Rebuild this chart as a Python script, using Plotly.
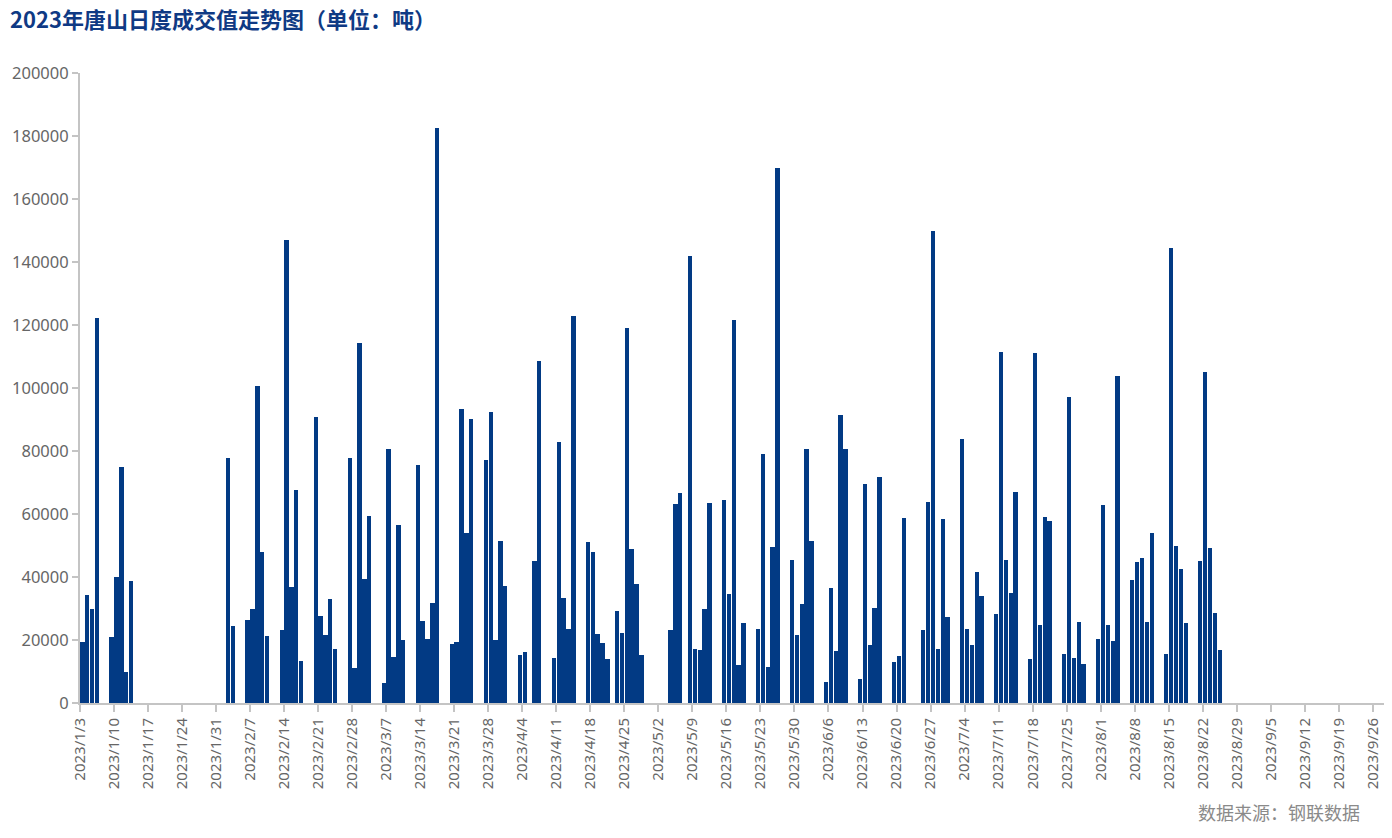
import plotly.graph_objects as go
from datetime import date, timedelta

title_text = "2023年唐山日度成交值走势图（单位：吨）"
source_text = "数据来源：钢联数据"

dates = [
    "2023-01-03", "2023-01-04", "2023-01-05", "2023-01-06", "2023-01-09", "2023-01-10", "2023-01-11", "2023-01-12", "2023-01-13",
    "2023-02-02", "2023-02-03", "2023-02-06", "2023-02-07", "2023-02-08", "2023-02-09", "2023-02-10",
    "2023-02-13", "2023-02-14", "2023-02-15", "2023-02-16", "2023-02-17",
    "2023-02-20", "2023-02-21", "2023-02-22", "2023-02-23", "2023-02-24",
    "2023-02-27", "2023-02-28", "2023-03-01", "2023-03-02", "2023-03-03",
    "2023-03-06", "2023-03-07", "2023-03-08", "2023-03-09", "2023-03-10",
    "2023-03-13", "2023-03-14", "2023-03-15", "2023-03-16", "2023-03-17",
    "2023-03-20", "2023-03-21", "2023-03-22", "2023-03-23", "2023-03-24",
    "2023-03-27", "2023-03-28", "2023-03-29", "2023-03-30", "2023-03-31",
    "2023-04-03", "2023-04-04", "2023-04-06", "2023-04-07",
    "2023-04-10", "2023-04-11", "2023-04-12", "2023-04-13", "2023-04-14",
    "2023-04-17", "2023-04-18", "2023-04-19", "2023-04-20", "2023-04-21",
    "2023-04-23", "2023-04-24", "2023-04-25", "2023-04-26", "2023-04-27", "2023-04-28",
    "2023-05-04", "2023-05-05", "2023-05-06",
    "2023-05-08", "2023-05-09", "2023-05-10", "2023-05-11", "2023-05-12",
    "2023-05-15", "2023-05-16", "2023-05-17", "2023-05-18", "2023-05-19",
    "2023-05-22", "2023-05-23", "2023-05-24", "2023-05-25", "2023-05-26",
    "2023-05-29", "2023-05-30", "2023-05-31", "2023-06-01", "2023-06-02",
    "2023-06-05", "2023-06-06", "2023-06-07", "2023-06-08", "2023-06-09",
    "2023-06-12", "2023-06-13", "2023-06-14", "2023-06-15", "2023-06-16",
    "2023-06-19", "2023-06-20", "2023-06-21",
    "2023-06-25", "2023-06-26", "2023-06-27", "2023-06-28", "2023-06-29", "2023-06-30",
    "2023-07-03", "2023-07-04", "2023-07-05", "2023-07-06", "2023-07-07",
    "2023-07-10", "2023-07-11", "2023-07-12", "2023-07-13", "2023-07-14",
    "2023-07-17", "2023-07-18", "2023-07-19", "2023-07-20", "2023-07-21",
    "2023-07-24", "2023-07-25", "2023-07-26", "2023-07-27", "2023-07-28",
    "2023-07-31", "2023-08-01", "2023-08-02", "2023-08-03", "2023-08-04",
    "2023-08-07", "2023-08-08", "2023-08-09", "2023-08-10", "2023-08-11",
    "2023-08-14", "2023-08-15", "2023-08-16", "2023-08-17", "2023-08-18",
    "2023-08-21", "2023-08-22", "2023-08-23", "2023-08-24", "2023-08-25",
]

values = [
    19500, 34300, 30000, 122100, 21100, 40100, 75000, 9900, 38700,
    77800, 24500, 26300, 30000, 100700, 47900, 21400,
    23200, 147000, 36800, 67700, 13300,
    90800, 27500, 21700, 32900, 17000,
    77800, 11200, 114400, 39500, 59300,
    6300, 80700, 14600, 56600, 20100,
    75500, 26100, 20400, 31900, 182600,
    18700, 19300, 93300, 54100, 90300,
    77000, 92400, 20000, 51500, 37100,
    15200, 16300, 45200, 108600,
    14200, 82800, 33200, 23400, 122900,
    51000, 47800, 21800, 19000, 14000,
    29200, 22100, 119000, 48900, 37700, 15200,
    23200, 63200, 66800,
    142000, 17000, 16700, 30000, 63500,
    64400, 34600, 121700, 12200, 25300,
    23600, 79100, 11500, 49400, 170000,
    45400, 21700, 31500, 80600, 51500,
    6800, 36600, 16600, 91400, 80500,
    7600, 69500, 18400, 30100, 71900,
    13100, 14900, 58600,
    23200, 63900, 149800, 17000, 58300, 27400,
    83700, 23500, 18400, 41700, 34000,
    28100, 111300, 45400, 34800, 66900,
    14000, 111000, 24800, 58900, 57900,
    15400, 97000, 14200, 25600, 12300,
    20200, 62900, 24800, 19800, 103700,
    39000, 44700, 45900, 25600, 53900,
    15400, 144300, 49800, 42400, 25300,
    45100, 105200, 49100, 28500, 16800,
]

# weekly tick labels, 2023/1/3 ... 2023/9/26
tick_start = date(2023, 1, 3)
tick_dates = [tick_start + timedelta(days=7 * k) for k in range(39) if tick_start + timedelta(days=7 * k) <= date(2023, 9, 26)]
tick_vals = [d.isoformat() for d in tick_dates]
tick_text = [f"{d.year}/{d.month}/{d.day}" for d in tick_dates]

DAY_MS = 86400000
bar_color = "#023a84"
gray = "#666666"
axis_gray = "#c4c4c4"

fig = go.Figure()
fig.add_trace(go.Bar(
    x=dates,
    y=values,
    marker=dict(color=bar_color, line=dict(width=0)),
    width=0.9 * DAY_MS,
    offset=0.05 * DAY_MS,
    hoverinfo="x+y",
))

# the page body has an 8px margin, so the figure is sized/offset to compensate
fig.update_layout(
    width=1384,
    height=830,
    paper_bgcolor="white",
    plot_bgcolor="white",
    margin=dict(l=72, r=7, t=65, b=135, autoexpand=False),
    showlegend=False,
    bargap=0,
    title=dict(
        text=f"<b>{title_text}</b>",
        x=0.0015, xanchor="left", y=0.994, yanchor="top",
        xref="container", yref="container",
        pad=dict(l=0, r=0, t=0, b=0),
        font=dict(family="Noto Sans CJK SC", size=22, color="#0f3a84"),
    ),
    xaxis=dict(
        type="date",
        range=["2023-01-03", "2023-09-28 12:00"],
        tickmode="array",
        tickvals=tick_vals,
        ticktext=tick_text,
        tickangle=-90,
        ticks="outside",
        ticklen=7,
        tickwidth=2,
        tickcolor=axis_gray,
        showline=True,
        linecolor=axis_gray,
        linewidth=2,
        showgrid=False,
        zeroline=False,
        automargin=False,
        tickfont=dict(family="Noto Sans", size=15, color=gray),
        fixedrange=True,
    ),
    yaxis=dict(
        range=[0, 200000],
        dtick=20000,
        tick0=0,
        ticks="outside",
        ticklen=6,
        tickwidth=2,
        tickcolor=axis_gray,
        showline=True,
        linecolor=axis_gray,
        linewidth=2,
        showgrid=False,
        zeroline=False,
        automargin=False,
        tickformat="d",
        tickfont=dict(family="Noto Sans", size=16.5, color=gray),
        fixedrange=True,
    ),
    annotations=[
        dict(
            text=source_text,
            xref="paper", yref="paper",
            x=0.9824, y=-0.173,
            xanchor="right", yanchor="middle",
            showarrow=False,
            font=dict(family="Noto Sans CJK SC", size=18, color="#8a8a8a"),
        )
    ],
)

fig.write_html("out.html")
